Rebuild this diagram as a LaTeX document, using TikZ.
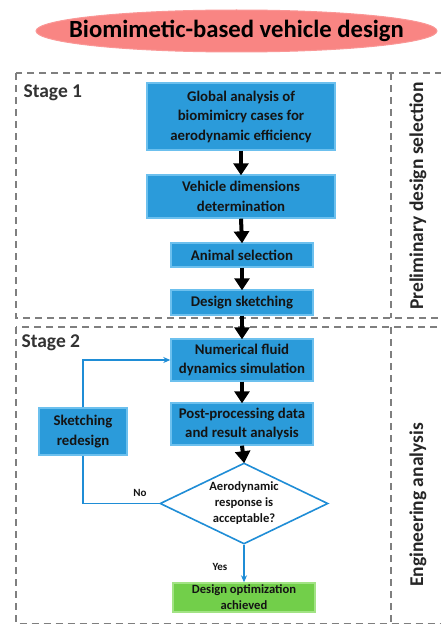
\documentclass[tikz,border=0pt]{standalone}
\usepackage{fontspec}
\setmainfont{Carlito}
\usetikzlibrary{arrows.meta,shapes.geometric}
\definecolor{boxblue}{HTML}{2B9BDA}
\definecolor{boxblueedge}{HTML}{6CC0EE}
\definecolor{boxgreen}{HTML}{72CF4A}
\definecolor{boxgreenedge}{HTML}{A2E384}
\definecolor{titlered}{HTML}{F98583}
\definecolor{dashgray}{HTML}{7F7F7F}
\definecolor{conblue}{HTML}{1F8DD6}
\definecolor{textdark}{HTML}{141414}
\begin{document}
\begin{tikzpicture}[x=1pt,y=-1pt,
  bbox/.style={draw=boxblueedge, fill=boxblue, line width=1.4pt, align=center, inner sep=0pt,
    text=textdark, font=\bfseries\fontsize{14.8}{19.5}\selectfont},
  gbox/.style={draw=boxgreenedge, fill=boxgreen, line width=1.4pt, align=center, inner sep=0pt,
    text=textdark, font=\bfseries\fontsize{12.6}{16}\selectfont},
  stagedash/.style={draw=dashgray, line width=1.3pt, dash pattern=on 7pt off 5pt},
  barrow/.style={line width=4pt, black, -{Triangle[width=15pt,length=12pt]}, shorten >=-1pt},
  bluecon/.style={draw=conblue, line width=1.6pt},
  lbl/.style={font=\bfseries\fontsize{11}{13}\selectfont, text=textdark},
  stagelbl/.style={font=\bfseries\fontsize{19.5}{22}\selectfont, text=black!80, anchor=west},
  sidelbl/.style={font=\bfseries\fontsize{19.5}{22}\selectfont, text=black!85, rotate=90}
]
\useasboundingbox (0,0) rectangle (441,626);

% title
\node[ellipse, fill=titlered, draw=titlered!85!white, line width=1pt, minimum width=401, minimum height=42, inner sep=0pt] (titlebg) at (236.5,31) {};
\node[inner sep=0pt, font=\bfseries\fontsize{24.7}{28}\selectfont, text=black] (title) at (titlebg.center) {Biomimetic-based vehicle design};

% stage frames
\draw[stagedash] (16,73) rectangle (470,318);
\draw[stagedash] (391,73) -- (391,318);
\draw[stagedash] (16,327) rectangle (470,623.5);
\draw[stagedash] (391,327) -- (391,623.5);

\node[stagelbl] (s1) at (20,93) {Stage 1};
\node[stagelbl] (s2) at (18,343) {Stage 2};
\node[sidelbl] (side1) at (418,196) {Preliminary design selection};
\node[sidelbl] (side2) at (418,505) {Engineering analysis};

% boxes
\node[bbox, minimum width=188, minimum height=67] (n1) at (241,116.5) {Global analysis of\\biomimicry cases for\\aerodynamic efficiency};
\node[bbox, minimum width=188, minimum height=43] (n2) at (241,196.5) {Vehicle dimensions\\determination};
\node[bbox, minimum width=142, minimum height=24] (n3) at (242,255) {Animal selection};
\node[bbox, minimum width=142, minimum height=25] (n4) at (242,302.5) {Design sketching};
\node[bbox, minimum width=142, minimum height=42] (n5) at (242,360) {Numerical fluid\\dynamics simulation};
\node[bbox, minimum width=142, minimum height=42] (n6) at (242,424) {Post-processing data\\and result analysis};
\node[diamond, draw=conblue, fill=white, line width=1.6pt, aspect=2.07, inner sep=0pt,
  minimum width=168, minimum height=81, align=center, text=textdark,
  font=\bfseries\fontsize{12.6}{16}\selectfont] (dia) at (244,503.5) {Aerodynamic\\response is\\acceptable?};
\node[bbox, minimum width=88, minimum height=47] (sk) at (83,431.5) {Sketching\\redesign};
\node[gbox, minimum width=142, minimum height=29] (gr) at (244,597.5) {Design optimization\\achieved};

% black arrows
\draw[barrow] (n1.south) -- (n2.north);
\draw[barrow] (n2.south) -- (n3.north);
\draw[barrow] (n3.south) -- (n4.north);
\draw[barrow] (n4.south) -- (n5.north);
\draw[barrow] (n5.south) -- (n6.north);
\draw[barrow] (n6.south) -- (dia.north);

% blue connectors
\draw[bluecon] (dia.west) -| (sk.south);
\draw[bluecon, -{Stealth[length=7pt,width=6pt]}] (sk.north) |- (n5.west);
\draw[bluecon, -{Stealth[length=7pt,width=6pt]}] (dia.south) -- (gr.north);

\node[lbl] (no) at (140,493) {No};
\node[lbl] (yes) at (220,567) {Yes};
\end{tikzpicture}
\end{document}
